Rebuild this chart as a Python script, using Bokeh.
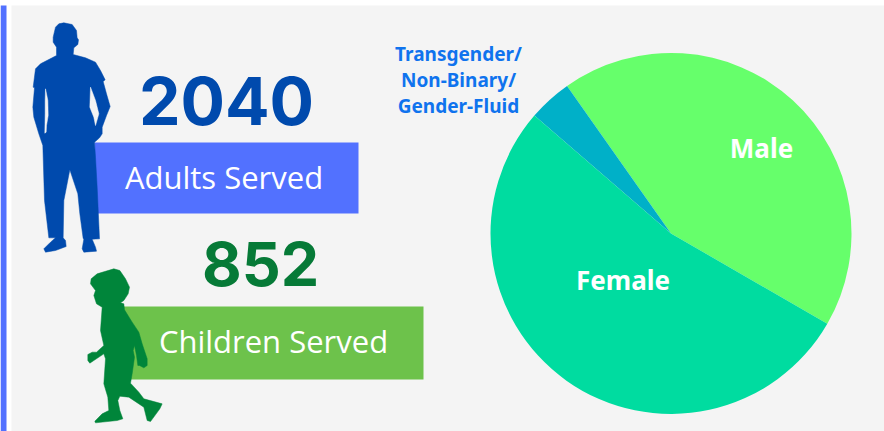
from math import pi
import numpy as np
from bokeh.plotting import figure
from bokeh.models import Range1d, ColumnDataSource
from bokeh.core.properties import value
from bokeh.embed import file_html
from bokeh.resources import INLINE

# data
genders = ["Male", "Transgender", "Female"]
gender_shares = [43.1, 3.9, 53.0]
gender_colors = ["#66FF6B", "#00B0C8", "#00DCA0"]
adults_served = 2040
children_served = 852

W, H = 884, 431
def Y(v):
    return H - v

p = figure(width=W, height=H, output_backend="svg", toolbar_location=None,
           x_range=Range1d(0, W), y_range=Range1d(0, H), min_border=0,
           background_fill_color="#FFFFFF", border_fill_color="#FFFFFF",
           outline_line_color=None)
p.xaxis.visible = False
p.yaxis.visible = False
p.grid.visible = False

GRAY = "#F4F4F4"
# panels
p.quad(left=[0], right=[6], bottom=[0], top=[Y(5)], fill_color="#5271FF", line_color=None)
p.quad(left=[11], right=[W], bottom=[0], top=[Y(5)], fill_color=GRAY, line_color=None)

# label bars
p.quad(left=[94], right=[358], bottom=[Y(213)], top=[Y(142)], fill_color="#5271FF", line_color=None)
p.quad(left=[123], right=[423], bottom=[Y(379)], top=[Y(306)], fill_color="#6DC24B", line_color=None)

# silhouettes (outline traced in 3x crop units)
adult = [(190,67),(215,72),(228,90),(230,112),(234,118),(232,132),(220,142),(218,162),(255,172),(285,185),
         (300,210),(314,238),(308,243),(318,280),(329,318),(318,345),(305,380),(305,400),(297,412),(282,425),
         (285,470),(290,560),(297,715),(275,716),(285,740),(288,752),(250,755),(245,745),(250,716),(248,714),
         (238,640),(232,580),(208,508),(190,600),(188,712),(195,720),(197,738),(165,750),(135,755),(130,745),
         (150,725),(165,712),(145,712),(132,600),(127,435),(115,400),(100,350),(97,320),(102,262),(98,260),
         (105,205),(120,190),(168,165),(168,140),(158,125),(158,110),(165,80),(175,70)]
adult_gap1 = [(135,265),(142,300),(143,345),(138,375),(137,395),(133,398),(134,340),(134,300)]
adult_gap2 = [(270,260),(268,320),(280,350),(285,375),(295,340),(285,300)]
child = [(160,55),(178,60),(195,85),(207,110),(203,130),(190,150),(180,157),(190,160),(192,178),(215,215),
         (235,245),(245,280),(260,325),(260,345),(250,352),(237,345),(232,345),(228,315),(222,285),(218,300),
         (222,320),(215,370),(210,398),(235,425),(250,445),(305,460),(298,475),(270,513),(260,510),(250,470),
         (205,440),(178,437),(172,450),(178,480),(187,505),(170,510),(105,517),(103,512),(125,490),(145,480),
         (142,440),(130,400),(135,325),(130,310),(100,330),(88,338),(82,330),(82,312),(95,305),(108,305),
         (130,285),(120,240),(125,170),(108,160),(100,135),(105,120),(90,100),(92,85),(110,70)]

def draw(points, ox, oy, color):
    p.patch([ox + a / 3 for a, b in points], [Y(oy + b / 3) for a, b in points],
            fill_color=color, line_color=color, line_width=0.5)

draw(adult, 0, 0, "#004AAD")
draw(adult_gap1, 0, 0, GRAY)
draw(adult_gap2, 0, 0, GRAY)
draw(child, 60, 250, "#00853A")

# pie, running counterclockwise from the Male / Female boundary
cx, cy, r = 670.5, Y(233), 180.5
start_deg = -30.0
cum = np.cumsum([0] + gender_shares) / sum(gender_shares) * 2 * pi
src = ColumnDataSource(dict(
    x=[cx] * 3, y=[cy] * 3,
    start=[start_deg * pi / 180 + c for c in cum[:-1]],
    end=[start_deg * pi / 180 + c for c in cum[1:]],
    color=gender_colors))
p.wedge(x="x", y="y", radius=r, start_angle="start", end_angle="end",
        fill_color="color", line_color=None, source=src)

def label(x, y, s, size, color, font, weight="normal"):
    p.text([x], [Y(y)], text=[s], text_font=value(font), text_font_size=f"{size}px",
           text_font_style=weight, text_color=color, text_align="center", text_baseline="middle")

label(226, 100, str(adults_served), 66, "#004AAD", "Inter", "bold")
label(260, 263, str(children_served), 61, "#067A37", "Inter", "bold")
label(223.5, 176, "Adults Served", 31, "#FFFFFF", "Open Sans")
label(273, 340, "Children Served", 31, "#FFFFFF", "Open Sans")
label(761, 147, "Male", 26, "#FFFFFF", "Noto Sans", "bold")
label(622.5, 279, "Female", 26, "#FFFFFF", "Noto Sans", "bold")
label(458, 53, "Transgender/", 19, "#0F73EE", "Noto Sans", "bold")
label(458, 79, "Non-Binary/", 19, "#0F73EE", "Noto Sans", "bold")
label(458, 105, "Gender-Fluid", 19, "#0F73EE", "Noto Sans", "bold")

open("out.html", "w").write(file_html(p, INLINE))
